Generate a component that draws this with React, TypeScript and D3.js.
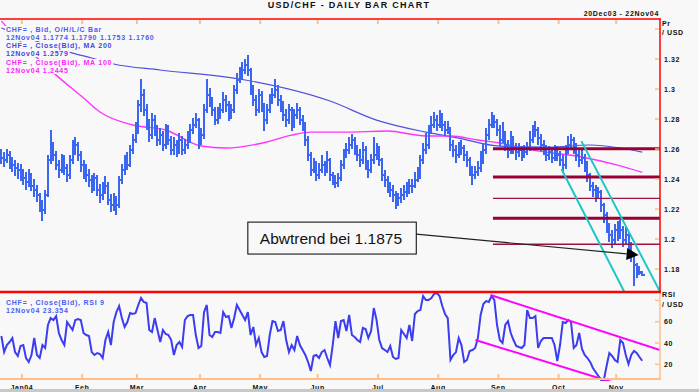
import React, { useEffect, useRef } from "react";
import * as d3 from "d3";

// month starts as trading-day index (day 0 = 22 Dec 2003)
const monthLabels = ["Jan04", "Feb", "Mar", "Apr", "May", "Jun", "Jul", "Aug", "Sep", "Oct", "Nov"];
const monthStarts = [8, 30, 50, 73, 95, 116, 138, 160, 182, 204, 225];

const priceTicks = [1.18, 1.2, 1.22, 1.24, 1.26, 1.28, 1.3, 1.32, 1.34];
const priceTickLabels = ["1.18", "1.2", "1.22", "1.24", "1.26", "1.28", "1.3", "1.32", ""];
const rsiTicks = [20, 40, 60, 80];
const rsiTickLabels = ["20", "40", "60", ""];

// daily OHLC bars, CHF= bid
const opens = [
  1.2560,1.2540,1.2527,1.2560,1.2513,1.2493,1.2473,1.2460,1.2447,1.2407,1.2380,1.2427,
  1.2353,1.2327,1.2293,1.2227,1.2193,1.2293,1.2527,1.2627,1.2560,1.2493,1.2460,1.2527,1.2473,
  1.2427,1.2527,1.2593,1.2627,1.2560,1.2493,1.2460,1.2427,1.2393,1.2353,1.2407,1.2327,
  1.2293,1.2327,1.2353,1.2260,1.2227,1.2260,
  1.2227,1.2393,1.2460,1.2527,1.2493,1.2593,1.2660,1.2727,1.2893,1.2960,
  1.2860,1.2760,1.2693,1.2793,1.2727,1.2660,1.2693,1.2627,1.2727,1.2660,
  1.2593,1.2627,1.2593,1.2660,1.2593,1.2627,1.2660,1.2727,1.2760,1.2793,1.2660,
  1.2693,1.2860,1.2960,1.2927,1.2860,1.2793,1.2827,1.2860,1.2927,1.2893,1.2827,
  1.2860,1.2993,1.3060,1.3093,1.3127,1.3160,1.3127,1.2993,1.2927,1.2860,1.2960,1.2893,
  1.2793,1.2860,1.2927,1.2960,1.2993,1.2927,1.2893,1.2827,1.2793,1.2860,1.2760,1.2827,1.2860,1.2793,
  1.2760,1.2660,1.2560,1.2460,1.2493,1.2427,1.2460,1.2493,1.2460,1.2527,1.2427,1.2393,1.2373,
  1.2407,1.2493,1.2560,1.2593,1.2627,1.2660,
  1.2593,1.2560,1.2527,1.2593,1.2493,1.2460,1.2527,1.2560,1.2593,
  1.2527,1.2427,1.2393,1.2353,1.2327,1.2293,1.2260,1.2273,1.2293,1.2313,1.2327,
  1.2353,1.2353,1.2393,1.2427,1.2527,1.2593,
  1.2627,1.2727,1.2760,1.2793,1.2760,1.2807,1.2760,1.2727,1.2740,1.2627,1.2593,
  1.2560,1.2593,1.2607,1.2560,1.2527,1.2460,1.2427,1.2447,1.2473,1.2527,
  1.2593,1.2693,1.2760,1.2793,1.2780,1.2727,1.2660,1.2693,1.2627,1.2593,1.2660,1.2607,
  1.2580,1.2593,1.2560,1.2580,1.2607,1.2660,1.2693,1.2727,1.2673,
  1.2627,1.2593,1.2560,1.2580,1.2540,1.2593,1.2560,1.2527,
  1.2493,1.2593,1.2627,1.2660,1.2607,1.2560,1.2527,1.2540,1.2493,1.2427,
  1.2353,1.2327,1.2293,1.2313,1.2227,1.2160,1.2093,1.2027,1.1993,
  1.2060,1.2027,1.2060,1.1993,1.2027,1.1960,1.1893,1.1827,1.1793,1.1774,
];
const highs = [
  1.2600,1.2580,1.2600,1.2590,1.2550,1.2530,1.2510,1.2500,1.2470,1.2450,1.2470,1.2440,
  1.2400,1.2360,1.2310,1.2260,1.2330,1.2560,1.2727,1.2650,1.2590,1.2530,1.2570,1.2560,1.2500,
  1.2560,1.2660,1.2680,1.2650,1.2590,1.2530,1.2500,1.2470,1.2430,1.2440,1.2430,1.2370,
  1.2380,1.2420,1.2380,1.2300,1.2310,1.2290,
  1.2420,1.2500,1.2560,1.2580,1.2630,1.2700,1.2780,1.2930,1.3070,1.3000,
  1.2900,1.2800,1.2840,1.2830,1.2760,1.2740,1.2720,1.2770,1.2760,1.2690,
  1.2680,1.2660,1.2710,1.2690,1.2670,1.2720,1.2770,1.2810,1.2840,1.2810,1.2740,
  1.2900,1.3070,1.3010,1.2950,1.2880,1.2880,1.2910,1.2980,1.2960,1.2920,1.2900,
  1.3030,1.3110,1.3150,1.3180,1.3200,1.3225,1.3140,1.3030,1.2960,1.3000,1.2990,1.2910,
  1.2900,1.2970,1.3010,1.3070,1.3030,1.2960,1.2920,1.2870,1.2900,1.2880,1.2870,1.2910,1.2880,1.2830,
  1.2780,1.2690,1.2580,1.2540,1.2520,1.2510,1.2560,1.2520,1.2590,1.2540,1.2450,1.2430,1.2440,
  1.2530,1.2600,1.2640,1.2680,1.2700,1.2680,
  1.2630,1.2600,1.2650,1.2620,1.2530,1.2570,1.2680,1.2640,1.2620,
  1.2540,1.2460,1.2420,1.2380,1.2360,1.2320,1.2310,1.2340,1.2360,1.2380,1.2400,
  1.2400,1.2450,1.2480,1.2560,1.2640,1.2710,
  1.2760,1.2820,1.2850,1.2830,1.2860,1.2840,1.2790,1.2790,1.2750,1.2660,1.2630,
  1.2650,1.2660,1.2630,1.2590,1.2550,1.2490,1.2490,1.2520,1.2590,1.2640,
  1.2740,1.2800,1.2850,1.2830,1.2800,1.2760,1.2780,1.2720,1.2660,1.2720,1.2690,1.2640,
  1.2640,1.2620,1.2630,1.2650,1.2720,1.2760,1.2790,1.2750,1.2700,
  1.2660,1.2630,1.2620,1.2610,1.2630,1.2620,1.2590,1.2560,
  1.2630,1.2690,1.2700,1.2680,1.2640,1.2600,1.2600,1.2570,1.2520,1.2440,
  1.2380,1.2360,1.2350,1.2330,1.2240,1.2180,1.2110,1.2060,1.2100,
  1.2120,1.2130,1.2090,1.2080,1.2050,1.1980,1.1900,1.1840,1.1820,1.1790,
];
const lows = [
  1.2500,1.2480,1.2510,1.2470,1.2450,1.2420,1.2400,1.2390,1.2360,1.2330,1.2350,1.2320,
  1.2280,1.2250,1.2180,1.2120,1.2170,1.2280,1.2500,1.2520,1.2460,1.2410,1.2440,1.2430,1.2380,
  1.2400,1.2500,1.2560,1.2520,1.2450,1.2400,1.2380,1.2350,1.2310,1.2320,1.2290,1.2240,
  1.2260,1.2300,1.2230,1.2180,1.2190,1.2160,
  1.2210,1.2370,1.2430,1.2460,1.2480,1.2570,1.2640,1.2700,1.2850,1.2820,
  1.2730,1.2650,1.2670,1.2690,1.2620,1.2630,1.2590,1.2600,1.2630,1.2560,
  1.2560,1.2550,1.2570,1.2560,1.2570,1.2600,1.2640,1.2700,1.2740,1.2600,1.2630,
  1.2670,1.2840,1.2880,1.2820,1.2760,1.2770,1.2800,1.2840,1.2850,1.2790,1.2800,
  1.2840,1.2970,1.3040,1.3070,1.3100,1.3090,1.2960,1.2890,1.2820,1.2840,1.2850,1.2720,
  1.2770,1.2840,1.2900,1.2940,1.2890,1.2850,1.2790,1.2750,1.2770,1.2720,1.2740,1.2800,1.2760,1.2720,
  1.2620,1.2520,1.2420,1.2440,1.2390,1.2400,1.2440,1.2420,1.2440,1.2390,1.2360,1.2340,1.2350,
  1.2390,1.2470,1.2540,1.2570,1.2600,1.2560,
  1.2520,1.2480,1.2500,1.2460,1.2410,1.2440,1.2500,1.2530,1.2490,
  1.2390,1.2350,1.2310,1.2280,1.2250,1.2200,1.2220,1.2240,1.2260,1.2280,1.2300,
  1.2310,1.2340,1.2380,1.2400,1.2500,1.2570,
  1.2600,1.2700,1.2740,1.2720,1.2740,1.2720,1.2690,1.2700,1.2590,1.2550,1.2510,
  1.2540,1.2560,1.2520,1.2480,1.2420,1.2360,1.2400,1.2420,1.2450,1.2500,
  1.2570,1.2660,1.2740,1.2740,1.2690,1.2620,1.2640,1.2590,1.2540,1.2570,1.2570,1.2530,
  1.2550,1.2520,1.2540,1.2560,1.2590,1.2640,1.2680,1.2630,1.2590,
  1.2560,1.2520,1.2530,1.2510,1.2520,1.2520,1.2490,1.2450,
  1.2470,1.2570,1.2610,1.2570,1.2520,1.2480,1.2500,1.2450,1.2380,1.2320,
  1.2280,1.2250,1.2270,1.2180,1.2110,1.2040,1.1980,1.1940,1.1970,
  1.1990,1.2000,1.1950,1.1970,1.1910,1.1850,1.1685,1.1740,1.1760,1.1753,
];
const closes = [
  1.2540,1.2527,1.2560,1.2513,1.2493,1.2473,1.2460,1.2447,1.2407,1.2380,1.2427,1.2353,
  1.2327,1.2293,1.2227,1.2193,1.2293,1.2527,1.2627,1.2560,1.2493,1.2460,1.2527,1.2473,1.2427,
  1.2527,1.2593,1.2627,1.2560,1.2493,1.2460,1.2427,1.2393,1.2353,1.2407,1.2327,1.2293,
  1.2327,1.2353,1.2260,1.2227,1.2260,1.2227,
  1.2393,1.2460,1.2527,1.2493,1.2593,1.2660,1.2727,1.2893,1.2960,1.2860,
  1.2760,1.2693,1.2793,1.2727,1.2660,1.2693,1.2627,1.2727,1.2660,1.2593,
  1.2627,1.2593,1.2660,1.2593,1.2627,1.2660,1.2727,1.2760,1.2793,1.2660,1.2693,
  1.2860,1.2960,1.2927,1.2860,1.2793,1.2827,1.2860,1.2927,1.2893,1.2827,1.2860,
  1.2993,1.3060,1.3093,1.3127,1.3160,1.3127,1.2993,1.2927,1.2860,1.2960,1.2893,1.2793,
  1.2860,1.2927,1.2960,1.2993,1.2927,1.2893,1.2827,1.2793,1.2860,1.2760,1.2827,1.2860,1.2793,1.2760,
  1.2660,1.2560,1.2460,1.2493,1.2427,1.2460,1.2493,1.2460,1.2527,1.2427,1.2393,1.2373,1.2407,
  1.2493,1.2560,1.2593,1.2627,1.2660,1.2593,
  1.2560,1.2527,1.2593,1.2493,1.2460,1.2527,1.2560,1.2593,1.2527,
  1.2427,1.2393,1.2353,1.2327,1.2293,1.2260,1.2273,1.2293,1.2313,1.2327,1.2353,
  1.2353,1.2393,1.2427,1.2527,1.2593,1.2627,
  1.2727,1.2760,1.2793,1.2760,1.2807,1.2760,1.2727,1.2740,1.2627,1.2593,1.2560,
  1.2593,1.2607,1.2560,1.2527,1.2460,1.2427,1.2447,1.2473,1.2527,1.2593,
  1.2693,1.2760,1.2793,1.2780,1.2727,1.2660,1.2693,1.2627,1.2593,1.2660,1.2607,1.2580,
  1.2593,1.2560,1.2580,1.2607,1.2660,1.2693,1.2727,1.2673,1.2627,
  1.2593,1.2560,1.2580,1.2540,1.2593,1.2560,1.2527,1.2493,
  1.2593,1.2627,1.2660,1.2607,1.2560,1.2527,1.2540,1.2493,1.2427,1.2353,
  1.2327,1.2293,1.2313,1.2227,1.2160,1.2093,1.2027,1.1993,1.2060,
  1.2027,1.2060,1.1993,1.2027,1.1960,1.1893,1.1827,1.1793,1.1780,1.1760,
];

// moving averages, read at sample days
const ma200Days = [0, 26, 33, 41, 58, 87, 120, 137, 155, 167, 182, 200, 215, 226, 234];
const ma200Values = [1.3407, 1.3240, 1.3207, 1.3167, 1.3127, 1.3067, 1.2920, 1.2793, 1.2713, 1.2673, 1.2620, 1.2613, 1.2627, 1.2607, 1.2579];
const ma100Days = [0, 10, 20, 30, 36, 48, 60, 73, 82, 97, 106, 113, 125, 141, 155, 164, 174, 182, 194, 212, 225, 234];
const ma100Values = [1.3453, 1.3260, 1.3093, 1.2940, 1.2847, 1.2760, 1.2727, 1.2620, 1.2607, 1.2647, 1.2693, 1.2713, 1.2713, 1.2720, 1.2687, 1.2687, 1.2660, 1.2640, 1.2593, 1.2547, 1.2493, 1.2445];

// RSI 9, one value per day
const rsiValues = [
  46.6,31.5,38.1,40.9,44.7,31.5,27.8,37.2,38.1,25.9,22.2,28.7,44.7,28.7,25.9,38.1,35.3,56.9,63.4,61.6,
  65.3,49.4,42.8,38.1,59.7,56.0,52.2,61.6,62.5,61.6,49.4,47.5,46.6,31.5,28.7,30.6,29.7,25.9,42.8,50.3,
  38.1,59.7,69.0,74.7,63.4,55.0,59.7,68.1,67.2,68.1,75.7,82.3,78.5,77.6,52.2,50.3,63.4,52.2,40.9,52.2,
  48.5,47.5,42.8,28.7,38.1,40.9,36.2,61.6,65.3,66.3,66.3,47.5,35.3,37.2,69.0,75.7,47.5,45.6,50.3,50.3,
  49.4,69.0,64.4,65.3,54.1,63.4,75.7,70.9,66.3,61.6,69.0,47.5,55.0,38.1,44.7,31.5,26.9,27.8,47.5,60.6,
  59.7,51.3,52.2,60.6,42.8,31.5,38.1,33.4,46.6,38.1,33.4,28.7,22.2,13.7,27.8,28.7,25.9,31.5,33.4,25.9,
  19.3,38.1,60.6,44.7,60.6,61.6,51.3,66.3,47.5,45.6,42.8,40.9,54.1,53.1,44.7,51.3,72.8,61.6,42.8,35.3,
  33.4,31.5,37.2,26.9,25.0,25.9,52.2,48.5,44.7,56.9,41.9,67.2,70.0,70.9,84.1,80.4,80.4,82.3,86.0,86.9,
  84.1,74.7,67.2,63.4,24.1,28.7,31.5,44.7,38.1,22.2,24.1,32.5,33.4,35.3,44.7,66.3,76.6,79.4,78.5,84.1,
  80.4,56.9,42.8,40.0,56.9,60.6,49.4,42.8,37.2,36.2,35.3,38.1,70.9,63.4,63.4,65.3,35.3,41.9,44.7,44.7,
  44.7,44.7,38.1,23.1,38.1,59.7,58.8,61.6,59.7,35.3,38.1,49.4,34.4,28.7,25.9,22.2,16.5,12.8,9.0,5.3,
  5.3,18.4,30.6,27.8,24.1,22.2,42.8,40.0,28.7,20.3,28.7,32.5,30.6,26.9,23.354,
];

// drawn annotations, in (trading day, value)
const majorLevels = [1.2602, 1.2413, 1.2138];
const minorLevels = [1.2271, 1.1965];
const levelStartDay = 180;
const priceChannel = [
  { d0: 212.3, v0: 1.2653, d1: 241, v1: 1.1650 },
  { d0: 205.0, v0: 1.2467, d1: 228.0, v1: 1.1647 },
];
const rsiChannel = [
  { d0: 179.1, v0: 85.0, d1: 241, v1: 33.4 },
  { d0: 173.6, v0: 42.8, d1: 223.3, v1: 3.4 },
];
const noteText = "Abwtrend bei 1.1875";
const noteBox = { d0: 90.5, d1: 152.0, top: 1.2113, bottom: 1.19 };
const noteArrow = { d0: 152.0, v0: 1.2033, d1: 233.2, v1: 1.1893 };

const BG = "#f8f8f8";
const FONT = "'Liberation Sans', Arial, sans-serif";

function drawChart(node: SVGSVGElement) {
  const svg = d3.select(node);
  svg.selectAll("*").remove();

  const plotRight = 660, mainTop = 19, mainBottom = 292, rsiBottom = 379;

  const x = d3.scaleLinear().domain([0, 241]).range([0, plotRight]);
  const y = d3.scaleLinear().domain([1.1647, 1.3467]).range([mainBottom, mainTop]);
  const yR = d3.scaleLinear().domain([0, 100]).range([385.6, 279.1]);

  svg.append("rect").attr("width", 699).attr("height", 392).attr("fill", BG);

  const defs = svg.append("defs");
  defs.append("clipPath").attr("id", "clipMain").append("rect")
    .attr("x", 0).attr("y", mainTop).attr("width", plotRight).attr("height", mainBottom - mainTop);
  defs.append("clipPath").attr("id", "clipRsi").append("rect")
    .attr("x", 0).attr("y", mainBottom).attr("width", plotRight).attr("height", rsiBottom - mainBottom + 2);

  const main = svg.append("g").attr("clip-path", "url(#clipMain)");

  // moving averages
  const maLine = d3.line<number>().curve(d3.curveMonotoneX);
  main.append("path")
    .attr("d", maLine.x((d, i) => x(ma200Days[i] + 0.5)).y(d => y(d))(ma200Values))
    .attr("fill", "none").attr("stroke", "#5050dd").attr("stroke-width", 1.2);
  main.append("path")
    .attr("d", maLine.x((d, i) => x(ma100Days[i] + 0.5)).y(d => y(d))(ma100Values))
    .attr("fill", "none").attr("stroke", "#ff33ff").attr("stroke-width", 1.4);

  // OHLC bars
  const bars = main.append("g").attr("stroke", "#3a66f2").attr("shape-rendering", "crispEdges");
  closes.forEach((c, i) => {
    const cx = Math.round(x(i + 0.5));
    bars.append("line").attr("x1", cx).attr("x2", cx)
      .attr("y1", y(highs[i])).attr("y2", y(lows[i])).attr("stroke-width", 2);
    bars.append("line").attr("x1", cx - 2).attr("x2", cx)
      .attr("y1", Math.round(y(opens[i]))).attr("y2", Math.round(y(opens[i]))).attr("stroke-width", 2);
    bars.append("line").attr("x1", cx).attr("x2", cx + 3)
      .attr("y1", Math.round(y(c))).attr("y2", Math.round(y(c))).attr("stroke-width", 2);
  });

  // support / resistance levels
  majorLevels.forEach(v => {
    main.append("line").attr("x1", x(levelStartDay)).attr("x2", plotRight)
      .attr("y1", y(v)).attr("y2", y(v)).attr("stroke", "#990033").attr("stroke-width", 3);
  });
  minorLevels.forEach(v => {
    main.append("line").attr("x1", x(levelStartDay)).attr("x2", plotRight)
      .attr("y1", y(v)).attr("y2", y(v)).attr("stroke", "#a0103c").attr("stroke-width", 1.4);
  });

  // downtrend channel
  priceChannel.forEach(l => {
    main.append("line").attr("x1", x(l.d0)).attr("y1", y(l.v0)).attr("x2", x(l.d1)).attr("y2", y(l.v1))
      .attr("stroke", "#1fc6c8").attr("stroke-width", 2);
  });

  // annotation arrow + box
  const ax0 = x(noteArrow.d0), ay0 = y(noteArrow.v0), ax1 = x(noteArrow.d1), ay1 = y(noteArrow.v1);
  const len = Math.hypot(ax1 - ax0, ay1 - ay0);
  const ux = (ax1 - ax0) / len, uy = (ay1 - ay0) / len;
  const bx = ax1 - ux * 12, by = ay1 - uy * 12;
  main.append("line").attr("x1", ax0).attr("y1", ay0).attr("x2", bx).attr("y2", by)
    .attr("stroke", "#222").attr("stroke-width", 1.2);
  main.append("path")
    .attr("d", `M${ax1},${ay1}L${bx - uy * 6},${by + ux * 6}L${bx + uy * 6},${by - ux * 6}Z`)
    .attr("fill", "#000");

  main.append("rect")
    .attr("x", x(noteBox.d0)).attr("y", y(noteBox.top))
    .attr("width", x(noteBox.d1) - x(noteBox.d0)).attr("height", y(noteBox.bottom) - y(noteBox.top))
    .attr("fill", BG).attr("stroke", "#000").attr("stroke-width", 1);
  main.append("text").attr("x", x(noteBox.d0) + 12).attr("y", y(noteBox.bottom) - 10.5)
    .attr("font-family", FONT).attr("font-size", 15.5).attr("fill", "#111").text(noteText);

  // RSI panel
  const rsi = svg.append("g").attr("clip-path", "url(#clipRsi)");
  rsi.append("path")
    .attr("d", d3.line<number>().x((d, i) => x(i + 0.5)).y(d => yR(d))(rsiValues))
    .attr("fill", "none").attr("stroke", "#3c3cf0").attr("stroke-width", 2);
  rsiChannel.forEach(l => {
    rsi.append("line").attr("x1", x(l.d0)).attr("y1", yR(l.v0)).attr("x2", x(l.d1)).attr("y2", yR(l.v1))
      .attr("stroke", "#ff00ff").attr("stroke-width", 2);
  });

  // legends with opaque backing
  const legend = (lines: { t: string; c: string; yy: number }[]) => {
    lines.forEach(l => {
      const g = svg.append("g");
      const txt = g.append("text").attr("x", 6).attr("y", l.yy)
        .attr("font-family", FONT).attr("font-size", 7).attr("font-weight", "bold")
        .attr("letter-spacing", 0.75).attr("fill", l.c).text(l.t);
      const bb = (txt.node() as SVGTextElement).getBBox();
      g.insert("rect", "text").attr("x", bb.x - 1).attr("y", bb.y).attr("width", bb.width + 2)
        .attr("height", bb.height).attr("fill", BG);
    });
  };
  legend([
    { t: "CHF= , Bid, O/H/L/C Bar", c: "#4b5cf0", yy: 32 },
    { t: "12Nov04 1.1774 1.1790 1.1753 1.1760", c: "#4b5cf0", yy: 40 },
    { t: "CHF= , Close(Bid), MA 200", c: "#4646dc", yy: 48 },
    { t: "12Nov04 1.2579", c: "#4646dc", yy: 56 },
    { t: "CHF= , Close(Bid), MA 100", c: "#ff22ff", yy: 65 },
    { t: "12Nov04 1.2445", c: "#ff22ff", yy: 73 },
    { t: "CHF= , Close(Bid), RSI 9", c: "#4b5cf0", yy: 305 },
    { t: "12Nov04 23.354", c: "#4b5cf0", yy: 313 },
  ]);

  const label = (t: string, xx: number, yy: number, anchor = "start", size = 7, ls = 0.6) =>
    svg.append("text").attr("x", xx).attr("y", yy).attr("text-anchor", anchor)
      .attr("font-family", FONT).attr("font-size", size).attr("font-weight", "bold")
      .attr("letter-spacing", ls).attr("fill", "#111").text(t);

  // title and range
  label("USD/CHF - DAILY BAR CHART", 349, 7.5, "middle", 9, 1.3);
  label("20Dec03 - 22Nov04", 659, 16, "end", 7, 0.7);

  // frame
  const tickColor = "#ffbf8c";
  svg.append("line").attr("x1", 0).attr("x2", plotRight + 1).attr("y1", mainTop).attr("y2", mainTop)
    .attr("stroke", "#ff0000").attr("stroke-width", 1.5);
  monthStarts.forEach(d => {
    svg.append("line").attr("x1", x(d)).attr("x2", x(d)).attr("y1", mainTop + 1).attr("y2", mainTop + 5)
      .attr("stroke", tickColor).attr("stroke-width", 2);
  });
  svg.append("line").attr("x1", plotRight).attr("x2", plotRight).attr("y1", mainTop).attr("y2", mainBottom)
    .attr("stroke", "#ff0000").attr("stroke-width", 1.5);
  svg.append("line").attr("x1", plotRight).attr("x2", plotRight).attr("y1", mainBottom).attr("y2", rsiBottom)
    .attr("stroke", tickColor).attr("stroke-width", 1.5);
  svg.append("line").attr("x1", 0).attr("x2", plotRight + 1).attr("y1", mainBottom).attr("y2", mainBottom)
    .attr("stroke", "#ff0000").attr("stroke-width", 2.5);
  svg.append("line").attr("x1", 0).attr("x2", plotRight + 1).attr("y1", rsiBottom).attr("y2", rsiBottom)
    .attr("stroke", tickColor).attr("stroke-width", 2);

  // price axis
  priceTicks.forEach((v, i) => {
    svg.append("line").attr("x1", plotRight - 5).attr("x2", plotRight - 1).attr("y1", y(v)).attr("y2", y(v))
      .attr("stroke", tickColor).attr("stroke-width", 1.5);
    if (priceTickLabels[i]) label(priceTickLabels[i], 664, y(v) + 2.5);
  });
  label("Pr", 662, 26);
  label("/ USD", 662, 34.5);

  // RSI axis
  rsiTicks.forEach((v, i) => {
    svg.append("line").attr("x1", plotRight - 5).attr("x2", plotRight - 1).attr("y1", yR(v)).attr("y2", yR(v))
      .attr("stroke", tickColor).attr("stroke-width", 1.5);
    if (rsiTickLabels[i]) label(rsiTickLabels[i], 664, yR(v) + 2.5);
  });
  label("RSI", 662, 297);
  label("/ USD", 662, 307);

  // month axis
  monthStarts.forEach((d, i) => {
    svg.append("line").attr("x1", x(d)).attr("x2", x(d)).attr("y1", rsiBottom - 5).attr("y2", rsiBottom)
      .attr("stroke", tickColor).attr("stroke-width", 2);
    label(monthLabels[i], x(d), 389.5, "middle");
  });

  svg.append("rect").attr("x", 0).attr("y", 389).attr("width", 699).attr("height", 3).attr("fill", "#c8c8c8");
}

export default function App() {
  const ref = useRef<SVGSVGElement>(null);
  useEffect(() => {
    if (ref.current) drawChart(ref.current);
  }, []);
  return (
    <svg ref={ref} width={699} height={392}
      style={{ position: "absolute", left: 0, top: 0, display: "block" }} />
  );
}
